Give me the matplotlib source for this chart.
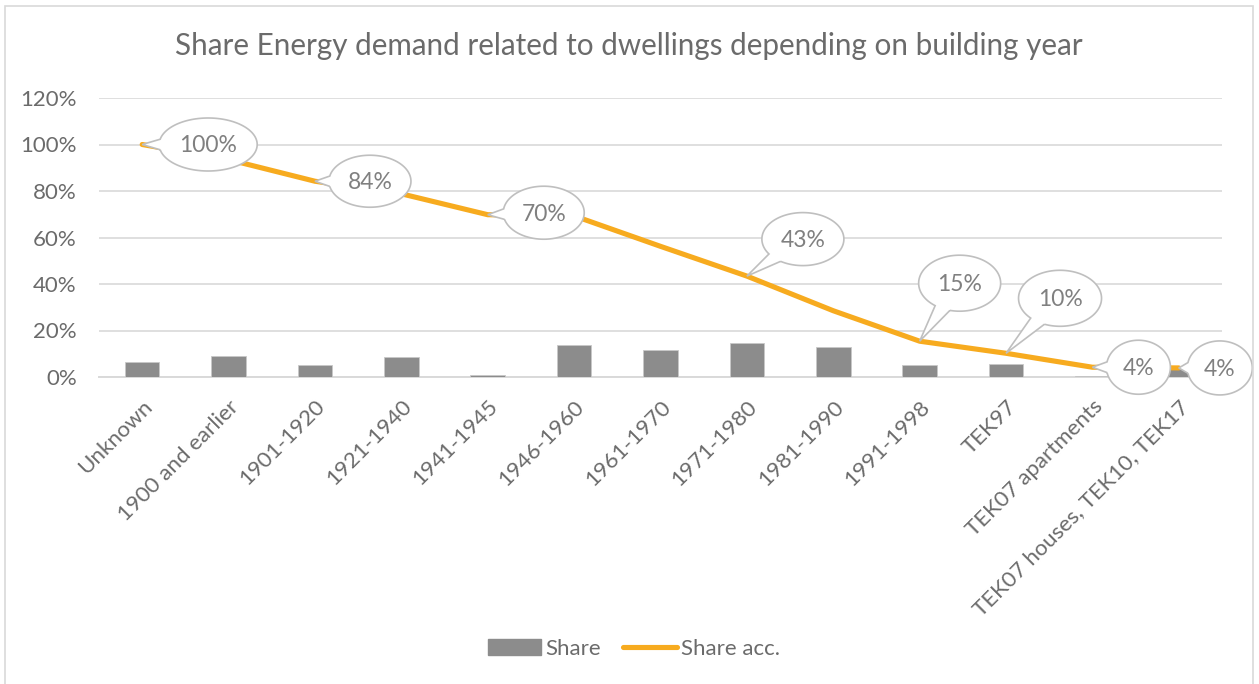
import numpy as np
import matplotlib
matplotlib.use("Agg")
import matplotlib.pyplot as plt
from matplotlib.path import Path
from matplotlib.patches import PathPatch, Rectangle
from matplotlib.lines import Line2D
from matplotlib.transforms import IdentityTransform

categories = [
    "Unknown", "1900 and earlier", "1901-1920", "1921-1940", "1941-1945",
    "1946-1960", "1961-1970", "1971-1980", "1981-1990", "1991-1998",
    "TEK97", "TEK07 apartments", "TEK07 houses, TEK10, TEK17",
]
share = [6.5, 9.0, 5.3, 8.8, 0.8, 13.7, 11.8, 14.7, 13.0, 5.2, 5.8, 0.3, 3.9]
share_acc = [100, 93.5, 84.2, 78.8, 69.8, 69.3, 56.2, 43.4, 28.5, 15.4, 10.2, 4.2, 3.9]
yticks = [0, 20, 40, 60, 80, 100, 120]

# callouts: category index, offset of ellipse centre from point (px, y down), ellipse w, h
callouts = [
    (0, 66, 0, 98, 53),
    (2, 55, 0, 82, 52),
    (4, 56, -2, 81, 53),
    (7, 56, -37, 82, 53),
    (9, 40, -58, 82, 56),
    (10, 54, -55, 83, 56),
    (11, 46, 0, 64, 54),
    (12, 41, 0, 65, 54),
]

FONT = ["Lato", "DejaVu Sans"]
plt.rcParams["font.family"] = FONT
TXT = "#6b6b6b"
GRID = "#d9d9d9"
BAR = "#8c8c8c"
LINE = "#f7ab1f"

W, H = 1259, 684
fig = plt.figure(figsize=(W / 100, H / 100), dpi=100)
ax = fig.add_axes([99 / W, 1 - 377 / H, (1222 - 99) / W, (377 - 98) / H])

x = np.arange(len(categories))
ax.bar(x, np.array(share) / 100, width=0.4, color=BAR, edgecolor="#c8c8c8",
       linewidth=0.6, zorder=3)
ax.plot(x, np.array(share_acc) / 100, color=LINE, lw=3.7, zorder=4,
        solid_capstyle="round", solid_joinstyle="round")

ax.set_xlim(-0.5, len(categories) - 0.5)
ax.set_ylim(0, 1.2)
ax.set_yticks([v / 100 for v in yticks])
ax.set_yticklabels([f"{v}%" for v in yticks], fontsize=16, color=TXT)
ax.yaxis.grid(True, color=GRID, lw=1.2, zorder=0)
ax.set_axisbelow(True)
for s in ["top", "right", "left"]:
    ax.spines[s].set_visible(False)
ax.spines["bottom"].set_color(GRID)
ax.spines["bottom"].set_linewidth(1.4)
ax.tick_params(axis="y", length=0, pad=16)
ax.tick_params(axis="x", length=0, pad=14)
ax.set_xticks(x)
ax.set_xticklabels(categories, rotation=45, ha="right", va="top",
                   rotation_mode="anchor", fontsize=16, color=TXT)

fig.text(629 / W, 1 - 46 / H,
         "Share Energy demand related to dwellings depending on building year",
         ha="center", va="center", fontsize=21.3, color=TXT)

# callout bubbles, built in pixel space
for i, dx, dy, w, h in callouts:
    tip = ax.transData.transform((x[i], share_acc[i] / 100))
    cx, cy = tip[0] + dx, tip[1] - dy
    a, b = w / 2, h / 2
    ang = np.arctan2((tip[1] - cy) / b, (tip[0] - cx) / a)
    t = np.linspace(ang + 0.2, ang + 2 * np.pi - 0.2, 150)
    verts = np.column_stack([cx + a * np.cos(t), cy + b * np.sin(t)])
    verts = np.vstack([verts, tip, verts[0]])
    ax.add_patch(PathPatch(Path(verts), transform=IdentityTransform(),
                           fc="white", ec="#bfbfbf", lw=1.2, zorder=5,
                           clip_on=False))
    ax.text(cx, cy - 1.5, f"{share_acc[i]:.0f}%", transform=IdentityTransform(),
            ha="center", va="center", fontsize=16.5, color="#808080", zorder=6)

handles = [Rectangle((0, 0), 1, 1, color=BAR),
           Line2D([], [], color=LINE, lw=3.7, solid_capstyle="round")]
fig.legend(handles, ["Share", "Share acc."], loc="center",
           bbox_to_anchor=(634 / W, 1 - 649 / H), ncol=2, frameon=False,
           fontsize=16, labelcolor=TXT, handlelength=2.4, handletextpad=0.2,
           columnspacing=1.0)

# chart border
fig.add_artist(Rectangle((5 / W, -0.01), (1253 - 5) / W, 1 - 6 / H + 0.01,
                         transform=fig.transFigure, fill=False,
                         ec=GRID, lw=1.2))

fig.savefig("out.png", dpi=100)
